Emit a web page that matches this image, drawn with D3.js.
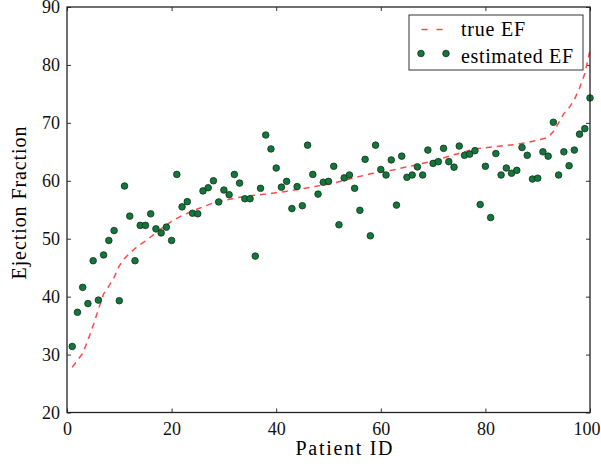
<!DOCTYPE html>
<html>
<head>
<meta charset="utf-8">
<script src="https://cdn.jsdelivr.net/npm/d3@7"></script>
<style>
  body { margin: 0; background: #fff; }
  svg { display: block; }
</style>
</head>
<body>
<svg width="601" height="466"></svg>
<script>
// estimated EF per patient (patients 1..100)
const estEF = [
  31.4, 37.3, 41.6, 38.8, 46.2, 39.4, 47.2, 49.7, 51.4, 39.3,
  59.1, 53.9, 46.2, 52.3, 52.3, 54.3, 51.7, 51.0, 52.0, 49.7,
  61.1, 55.5, 56.4, 54.4, 54.3, 58.25, 58.8, 60.0, 56.35, 58.4,
  57.6, 61.1, 59.6, 56.9, 56.9, 47.0, 58.7, 67.9, 65.5, 62.2,
  58.9, 59.9, 55.2, 59.0, 55.7, 66.15, 61.1, 57.7, 59.75, 59.9,
  62.5, 52.4, 60.5, 61.0, 58.7, 54.9, 63.7, 50.5, 66.15, 61.95,
  61.0, 63.6, 55.8, 64.25, 60.6, 61.0, 62.4, 61.0, 65.3, 63.0,
  63.3, 65.6, 63.3, 62.35, 66.0, 64.4, 64.6, 65.2, 55.9, 62.5,
  53.65, 64.7, 61.0, 62.2, 61.3, 61.8, 65.75, 64.4, 60.3, 60.45,
  65.0, 64.25, 70.1, 61.0, 65.0, 62.6, 65.3, 68.05, 69.0, 74.3
];
const patientIds = d3.range(1, 101);

// true EF curve, read at these patients
const trueIds = [1, 2, 3, 4, 5, 6, 7, 8, 9, 10, 11, 12, 13, 14, 15, 16, 17, 18, 19, 20,
  22, 24, 26, 28, 30, 32, 35, 38, 42, 46, 50, 54, 58, 62, 66, 70, 74, 78, 82, 86,
  88, 90, 92, 93, 94, 95, 96, 97, 98, 99, 100];
const trueEF = [27.8, 29.0, 30.2, 32.5, 35.0, 37.8, 40.5, 41.8, 43.3, 45.3,
  46.6, 47.5, 48.3, 49.0, 49.6, 50.3, 51.0, 51.7, 52.4, 53.0,
  54.0, 54.8, 55.5, 56.2, 56.6, 57.0, 57.4, 57.7, 58.2, 58.8,
  59.4, 60.3, 61.2, 61.8, 62.6, 63.4, 64.5, 65.5, 65.9, 66.3,
  66.6, 67.0, 67.5, 68.5, 70.0, 71.6, 72.6, 74.0, 76.0, 78.5, 82.5];

const xTicks = [0, 20, 40, 60, 80, 100];
const yTicks = [20, 30, 40, 50, 60, 70, 80, 90];

const serif = '"Liberation Serif", "Times New Roman", serif';

const svg = d3.select('svg');
const margin = { top: 7, right: 11, bottom: 53.5, left: 67 };
const width = +svg.attr('width');
const height = +svg.attr('height');
const innerWidth = width - margin.left - margin.right;
const innerHeight = height - margin.top - margin.bottom;

const xScale = d3.scaleLinear().domain([0, 100]).range([0, innerWidth]);
const yScale = d3.scaleLinear().domain([20, 90]).range([innerHeight, 0]);

const g = svg.append('g')
  .attr('transform', `translate(${margin.left},${margin.top})`);

const styleAxis = sel => {
  sel.select('.domain').remove();
  sel.selectAll('.tick line').attr('stroke', '#333').attr('stroke-width', 1);
  sel.selectAll('.tick text')
    .style('font-family', serif)
    .style('font-size', '18px')
    .attr('fill', '#111');
};

const xAxisG = g.append('g')
  .attr('transform', `translate(0,${innerHeight})`)
  .call(d3.axisBottom(xScale).tickValues(xTicks).tickSize(-4).tickPadding(10))
  .call(styleAxis);
// last label sits a bit left so it stays inside the figure
xAxisG.selectAll('.tick text').filter(d => d === 100).attr('x', -3.5);

g.append('g')
  .call(d3.axisTop(xScale).tickValues(xTicks).tickSize(-4).tickFormat(''))
  .call(styleAxis);
g.append('g')
  .call(d3.axisLeft(yScale).tickValues(yTicks).tickSize(-4).tickPadding(7))
  .call(styleAxis);
g.append('g')
  .attr('transform', `translate(${innerWidth},0)`)
  .call(d3.axisRight(yScale).tickValues(yTicks).tickSize(-4).tickFormat(''))
  .call(styleAxis);

// true EF dashed line
const line = d3.line()
  .x((d, i) => xScale(trueIds[i]))
  .y(d => yScale(d));
g.append('path')
  .datum(trueEF)
  .attr('fill', 'none')
  .attr('stroke', '#ff4a4a')
  .attr('stroke-width', 1.5)
  .attr('stroke-dasharray', '6,5')
  .attr('d', line);

// estimated EF points
g.selectAll('circle.est').data(estEF)
  .enter().append('circle')
    .attr('class', 'est')
    .attr('cx', (d, i) => xScale(patientIds[i]))
    .attr('cy', d => yScale(d))
    .attr('r', 3.3)
    .attr('fill', '#13773c')
    .attr('stroke', '#12301c')
    .attr('stroke-width', 0.8);

// frame
g.append('rect')
  .attr('width', innerWidth)
  .attr('height', innerHeight)
  .attr('fill', 'none')
  .attr('stroke', '#222')
  .attr('stroke-width', 1.3);

// axis labels
svg.append('text')
  .attr('x', 344)
  .attr('y', 455)
  .attr('text-anchor', 'middle')
  .style('font-family', serif)
  .style('font-size', '20px')
  .attr('textLength', 97)
  .text('Patient ID');

svg.append('text')
  .attr('transform', 'translate(26,203) rotate(-90)')
  .attr('text-anchor', 'middle')
  .style('font-family', serif)
  .style('font-size', '20px')
  .attr('textLength', 153)
  .text('Ejection Fraction');

// legend
const legend = svg.append('g').attr('transform', 'translate(409,15)');
legend.append('rect')
  .attr('width', 174)
  .attr('height', 55)
  .attr('fill', '#fff')
  .attr('stroke', '#333')
  .attr('stroke-width', 1);
legend.append('line')
  .attr('x1', 12.5).attr('x2', 34)
  .attr('y1', 14.5).attr('y2', 14.5)
  .attr('stroke', '#ff4a4a')
  .attr('stroke-width', 1.5)
  .attr('stroke-dasharray', '6,9');
legend.append('text')
  .attr('x', 52).attr('y', 21)
  .style('font-family', serif)
  .style('font-size', '20px')
  .attr('textLength', 64)
  .text('true EF');
legend.selectAll('circle').data([12, 37])
  .enter().append('circle')
    .attr('cx', d => d)
    .attr('cy', 38.5)
    .attr('r', 3.3)
    .attr('fill', '#13773c')
    .attr('stroke', '#12301c')
    .attr('stroke-width', 0.8);
legend.append('text')
  .attr('x', 52).attr('y', 48)
  .style('font-family', serif)
  .style('font-size', '20px')
  .attr('textLength', 112)
  .text('estimated EF');
</script>
</body>
</html>
